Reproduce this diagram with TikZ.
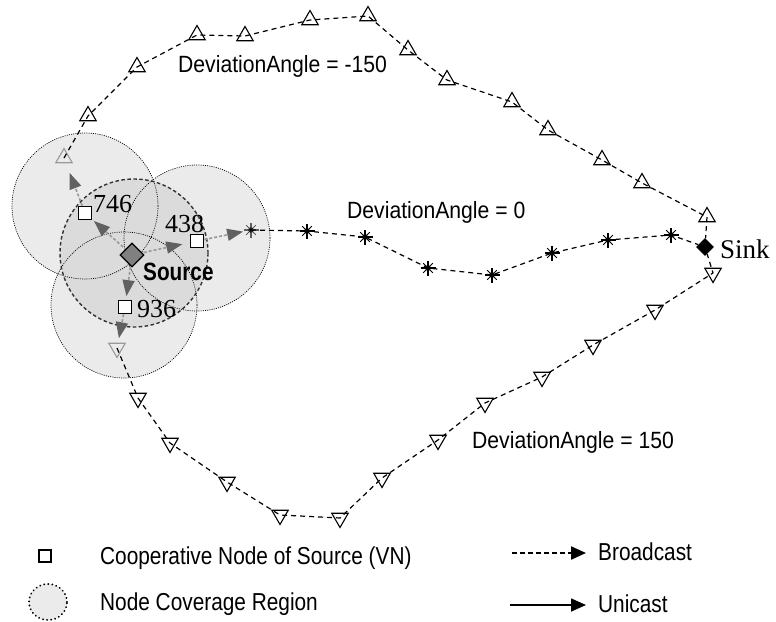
\documentclass[tikz,border=0pt]{standalone}
\usepackage{fontspec}
\setmainfont{Liberation Serif}
\newfontfamily\dafont[FakeStretch=0.9]{Liberation Sans}
\newfontfamily\lgfont[FakeStretch=0.85]{Liberation Sans}
\newfontfamily\srcfont[FakeStretch=0.83]{Liberation Sans Bold}
\usetikzlibrary{shapes.geometric,arrows.meta}

\begin{document}
\begin{tikzpicture}[x=1pt,y=-1pt,
  tri/.style={regular polygon, regular polygon sides=3, draw, line width=1.1pt, minimum size=19pt, inner sep=0pt},
  itri/.style={tri, shape border rotate=180},
  faded/.style={draw=black!40},
  ast/.style={circle, inner sep=0pt, minimum size=16pt, path picture={
      \draw[line width=1.2pt] ([xshift=-7.5pt]path picture bounding box.center) -- ([xshift=7.5pt]path picture bounding box.center);
      \draw[line width=1.2pt] ([yshift=-7.5pt]path picture bounding box.center) -- ([yshift=7.5pt]path picture bounding box.center);
      \draw[line width=1pt] ([shift={(-4.8pt,-4.8pt)}]path picture bounding box.center) -- ([shift={(4.8pt,4.8pt)}]path picture bounding box.center);
      \draw[line width=1pt] ([shift={(-4.8pt,4.8pt)}]path picture bounding box.center) -- ([shift={(4.8pt,-4.8pt)}]path picture bounding box.center);
      \fill (path picture bounding box.center) circle[radius=2.8pt];}},
  vn/.style={rectangle, draw, fill=white, line width=1.5pt, minimum size=13pt, inner sep=0pt},
  route/.style={line width=1.2pt, dash pattern=on 5pt off 4pt},
  covfill/.style={fill=black!8},
  srcfill/.style={fill=black!14},
  covline/.style={draw=black, line width=0.7pt, dash pattern=on 1pt off 1.2pt},
  srcline/.style={draw=black!80, line width=1.4pt, dash pattern=on 3.5pt off 2.5pt},
  garrow/.style={draw=black!40, line width=1.6pt, dash pattern=on 3pt off 2pt, -{Triangle[length=16pt,width=12pt,color=black!62]}},
  numlbl/.style={anchor=base west, inner sep=0pt, font=\fontsize{26}{26}\selectfont},
  dalbl/.style={anchor=base west, inner sep=0pt, font=\dafont\fontsize{23.5}{23.5}\selectfont},
  lglbl/.style={anchor=base west, inner sep=0pt, font=\lgfont\fontsize{24.5}{24.5}\selectfont},
  bcast/.style={line width=2.2pt, dash pattern=on 5pt off 3pt, -{Triangle[length=15pt,width=13pt]}},
  ucast/.style={line width=1.6pt, -{Triangle[length=15pt,width=13pt]}}
]
\useasboundingbox (0,0) rectangle (776,621);

% coverage regions
\fill[covfill] (85,206) circle[radius=73];
\fill[covfill] (197,238) circle[radius=73];
\fill[covfill] (124,305) circle[radius=73];
\fill[srcfill] (134,253) circle[radius=74];
\draw[covline] (85,206) circle[radius=73];
\draw[covline] (197,238) circle[radius=73];
\draw[covline] (124,305) circle[radius=73];
\draw[srcline] (134,253) circle[radius=74];

% source, sink, cooperative nodes
\node[diamond, draw, fill=black!50, line width=1.2pt, minimum size=24pt, inner sep=0pt] (src) at (132,255) {};
\node[diamond, fill=black, minimum size=18pt, inner sep=0pt] (sink) at (705,247) {};
\node[vn] (v746) at (85,213) {};
\node[vn] (v438) at (197,241) {};
\node[vn] (v936) at (125,307) {};
\node[numlbl] (l746) at (93,212) {746};
\node[numlbl] (l438) at (165,232) {438};
\node[numlbl] (l936) at (137,317) {936};
\node[anchor=base west, inner sep=0pt, font=\srcfont\fontsize{25}{25}\selectfont] (lsrc) at (143,280) {Source};
\node[anchor=base west, inner sep=0pt, font=\fontsize{27}{27}\selectfont] (lsink) at (720,258) {Sink};

% path -150 (triangles)
\node[tri, faded] (t1) at (64,158) {};
\node[tri] (t2) at (88,116) {};
\node[tri] (t3) at (137,67) {};
\node[tri] (t4) at (197,35) {};
\node[tri] (t5) at (245,36) {};
\node[tri] (t6) at (310,20) {};
\node[tri] (t7) at (368,16) {};
\node[tri] (t8) at (408,50) {};
\node[tri] (t9) at (447,80) {};
\node[tri] (t10) at (512,102) {};
\node[tri] (t11) at (548,130) {};
\node[tri] (t12) at (602,160) {};
\node[tri] (t13) at (642,183) {};
\node[tri] (t14) at (707,217) {};
\draw[route] (t1.center) -- (t2.center) -- (t3.center) -- (t4.center) -- (t5.center) -- (t6.center) -- (t7.center) -- (t8.center) -- (t9.center) -- (t10.center) -- (t11.center) -- (t12.center) -- (t13.center) -- (t14.center) -- (sink);

% path 0 (asterisks)
\node[ast, opacity=0.6] (a1) at (251,230) {};
\node[ast] (a2) at (307,231) {};
\node[ast] (a3) at (365,237) {};
\node[ast] (a4) at (428,268) {};
\node[ast] (a5) at (492,275) {};
\node[ast] (a6) at (552,253) {};
\node[ast] (a7) at (608,240) {};
\node[ast] (a8) at (671,235) {};
\draw[route] (a1.center) -- (a2.center) -- (a3.center) -- (a4.center) -- (a5.center) -- (a6.center) -- (a7.center) -- (a8.center) -- (sink);

% path 150 (inverted triangles)
\node[itri, faded] (b1) at (117,348) {};
\node[itri] (b2) at (138,398) {};
\node[itri] (b3) at (170,443) {};
\node[itri] (b4) at (227,482) {};
\node[itri] (b5) at (280,515) {};
\node[itri] (b6) at (340,518) {};
\node[itri] (b7) at (382,478) {};
\node[itri] (b8) at (438,440) {};
\node[itri] (b9) at (485,403) {};
\node[itri] (b10) at (542,377) {};
\node[itri] (b11) at (593,345) {};
\node[itri] (b12) at (655,310) {};
\node[itri] (b13) at (713,273) {};
\draw[route] (b1.center) -- (b2.center) -- (b3.center) -- (b4.center) -- (b5.center) -- (b6.center) -- (b7.center) -- (b8.center) -- (b9.center) -- (b10.center) -- (b11.center) -- (b12.center) -- (b13.center) -- (sink);

% broadcast arrows inside the coverage regions
\draw[garrow, shorten <=12pt, shorten >=12pt] (src.center) -- (v746.center);
\draw[garrow, shorten <=12pt, shorten >=15pt] (src.center) -- (v438.center);
\draw[garrow, shorten <=12pt, shorten >=11pt] (src.center) -- (v936.center);
\draw[garrow, shorten >=16pt] (v746) -- (t1.center);
\draw[garrow, shorten >=8pt] (v438) -- (a1.center);
\draw[garrow, shorten >=10pt] (v936) -- (b1.center);

% deviation labels
\node[dalbl] (dm150) at (178,72) {DeviationAngle = -150};
\node[dalbl] (d0) at (347,218) {DeviationAngle = 0};
\node[dalbl] (d150) at (472,448) {DeviationAngle = 150};

% legend
\node[vn, line width=2pt, minimum size=12pt] (lgsq) at (45,556) {};
\node[lglbl] (lgsqt) at (100,564) {Cooperative Node of Source (VN)};
\node[ellipse, draw, fill=black!8, minimum width=38pt, minimum height=36pt, inner sep=0pt, line width=2pt, line cap=round, dash pattern=on 0.1pt off 4pt] (lgcov) at (48,602) {};
\node[lglbl] (lgcovt) at (100,610) {Node Coverage Region};
\coordinate (bcA) at (512,553);
\coordinate (bcB) at (586,553);
\draw[bcast] (bcA) -- (bcB);
\node[lglbl] (lgbc) at (598,560) {Broadcast};
\coordinate (ucA) at (510,605);
\coordinate (ucB) at (586,605);
\draw[ucast] (ucA) -- (ucB);
\node[lglbl] (lguc) at (598,612) {Unicast};
\end{tikzpicture}
\end{document}
